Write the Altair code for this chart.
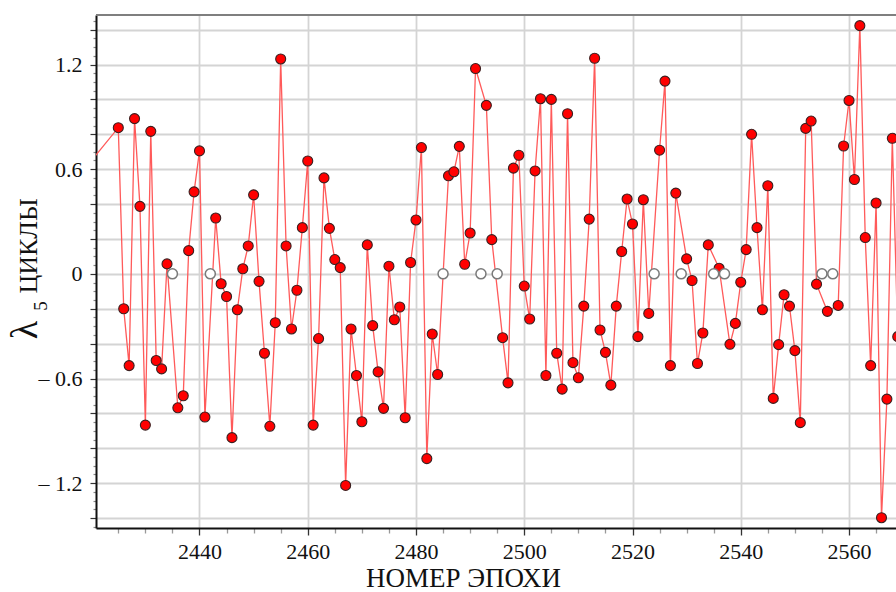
import altair as alt
import pandas as pd

# ---------------- data ----------------
epochs = [2419, 2425, 2426, 2427, 2428, 2429, 2430, 2431, 2432, 2433, 2434,
          2436, 2437, 2438, 2439, 2440, 2441, 2443, 2444, 2445, 2446, 2447,
          2448, 2449, 2450, 2451, 2452, 2453, 2454, 2455, 2456, 2457, 2458,
          2459, 2460, 2461, 2462, 2463, 2464, 2465, 2466, 2467, 2468, 2469,
          2470, 2471, 2472, 2473, 2474, 2475, 2476, 2477, 2478, 2479, 2480,
          2481, 2482, 2483, 2484, 2486, 2487, 2488, 2489, 2490, 2491, 2493,
          2494, 2496, 2497, 2498, 2499, 2500, 2501, 2502, 2503, 2504, 2505,
          2506, 2507, 2508, 2509, 2510, 2511, 2512, 2513, 2514, 2515, 2516,
          2517, 2518, 2519, 2520, 2521, 2522, 2523, 2525, 2526, 2527, 2528,
          2530, 2531, 2532, 2533, 2534, 2536, 2538, 2539, 2540, 2541, 2542,
          2543, 2544, 2545, 2546, 2547, 2548, 2549, 2550, 2551, 2552, 2553,
          2554, 2556, 2558, 2559, 2560, 2561, 2562, 2563, 2564, 2565, 2566,
          2567, 2568, 2569]
values = [0.61, 0.838, -0.20, -0.526, 0.89, 0.387, -0.867, 0.817, -0.497, -0.545, 0.057,
          -0.768, -0.699, 0.133, 0.47, 0.705, -0.821, 0.32, -0.057, -0.13, -0.939, -0.206,
          0.029, 0.16, 0.453, -0.043, -0.455, -0.874, -0.28, 1.232, 0.16, -0.316, -0.094,
          0.265, 0.647, -0.867, -0.371, 0.55, 0.261, 0.082, 0.036, -1.213, -0.316, -0.583,
          -0.848, 0.166, -0.297, -0.562, -0.771, 0.044, -0.263, -0.19, -0.825, 0.065, 0.309,
          0.724, -1.059, -0.345, -0.577, 0.562, 0.585, 0.731, 0.055, 0.234, 1.177, 0.966,
          0.196, -0.366, -0.625, 0.606, 0.68, -0.07, -0.259, 0.59, 1.004, -0.583, 1.0,
          -0.455, -0.661, 0.918, -0.509, -0.596, -0.185, 0.314, 1.236, -0.322, -0.45, -0.638,
          -0.185, 0.128, 0.429, 0.286, -0.36, 0.425, -0.227, 0.709, 1.105, -0.526, 0.463,
          0.086, -0.038, -0.514, -0.339, 0.166, 0.032, -0.404, -0.284, -0.048, 0.139, 0.8,
          0.265, -0.206, 0.505, -0.714, -0.406, -0.12, -0.185, -0.44, -0.853, 0.834, 0.876,
          -0.059, -0.215, -0.181, 0.733, 0.994, 0.541, 1.423, 0.208, -0.526, 0.406, -1.398,
          -0.718, 0.777, -0.36]
missing_epochs = [2435, 2442, 2485, 2492, 2495, 2524, 2529, 2535, 2537, 2555, 2557]
missing_values = [0, 0, 0, 0, 0, 0, 0, 0, 0, 0, 0]

x_tick_values = [2425, 2430, 2435, 2440, 2445, 2450, 2455, 2460, 2465, 2470, 2475,
                 2480, 2485, 2490, 2495, 2500, 2505, 2510, 2515, 2520, 2525, 2530,
                 2535, 2540, 2545, 2550, 2555, 2560, 2565]
y_tick_values = [round(-1.45 + 0.05 * i, 2) for i in range(59)]

obs = pd.DataFrame({"epoch": epochs, "lam": values})
miss = pd.DataFrame({"epoch": missing_epochs, "lam": missing_values})

FONT = "Liberation Serif, Times New Roman, serif"
XDOM = [2420.88, 2568.68]
YDOM = [-1.457, 1.484]
W, H = 800, 513

x_axis = alt.Axis(
    values=x_tick_values,
    title="НОМЕР ЭПОХИ",
    titleFont=FONT, titleFontSize=27, titleFontWeight="normal", titleColor="#111",
    titleX=367, titleY=58, titleBaseline="alphabetic", titleAnchor="middle", titleAlign="center",
    labelFont=FONT, labelFontSize=22, labelColor="#111",
    labelExpr="datum.value % 20 === 0 ? '' + datum.value : ''",
    labelOverlap=False, labelFlush=False, labelPadding=6,
    grid=True, gridColor="#d4d4d4", gridWidth=1.8,
    gridOpacity={"condition": {"test": "datum.value % 20 === 0", "value": 1}, "value": 0},
    ticks=True,
    tickSize={"condition": {"test": "datum.value % 20 === 0", "value": 7}, "value": 5},
    tickColor={"condition": {"test": "datum.value % 20 === 0", "value": "#333"}, "value": "#999"},
    tickWidth=1.3,
    domain=True, domainColor="#111", domainWidth=2,
)

major_y = "abs(datum.value * 5 - round(datum.value * 5)) < 0.000001"
label_y = "abs(datum.value / 0.6 - round(datum.value / 0.6)) < 0.000001"
y_axis = alt.Axis(
    values=y_tick_values,
    title=None,
    labelFont=FONT, labelFontSize=22, labelColor="#111",
    labelExpr=(f"({label_y}) ? (abs(datum.value) < 0.000001 ? '0\u00a0\u00a0' : "
               "(datum.value < 0 ? '– ' + format(-datum.value, '.1f') : format(datum.value, '.1f'))) : ''"),
    labelOverlap=False, labelFlush=False, labelPadding=8,
    grid=True, gridColor="#d4d4d4", gridWidth=1.8,
    gridOpacity={"condition": {"test": major_y, "value": 1}, "value": 0},
    ticks=True,
    tickSize={"condition": {"test": major_y, "value": 6}, "value": 3},
    tickColor={"condition": {"test": major_y, "value": "#333"}, "value": "#888"},
    tickWidth=1.2,
    domain=True, domainColor="#111", domainWidth=2,
)

xenc = alt.X("epoch:Q", scale=alt.Scale(domain=XDOM, nice=False, zero=False), axis=x_axis)
yenc = alt.Y("lam:Q", scale=alt.Scale(domain=YDOM, nice=False, zero=False), axis=y_axis)

line = alt.Chart(obs).mark_line(color="#ff5a5a", strokeWidth=1.3, clip=True).encode(x=xenc, y=yenc)
pts = alt.Chart(obs).mark_circle(
    color="#ff0000", stroke="#3a2020", strokeWidth=1.1, size=100, opacity=1, clip=True
).encode(x=xenc, y=yenc)
hollow = alt.Chart(miss).mark_circle(
    color="#ffffff", stroke="#7a7a7a", strokeWidth=1.5, size=100, opacity=1, clip=True
).encode(x=xenc, y=yenc)

top_border = alt.Chart(pd.DataFrame({"a": [0]})).mark_rule(
    color="#7f7f7f", strokeWidth=2
).encode(x=alt.value(0), x2=alt.value(W), y=alt.value(0))

lam_txt = alt.Chart(pd.DataFrame({"t": ["λ"]})).mark_text(
    angle=270, font=FONT, fontSize=38, color="#111", align="center", baseline="middle"
).encode(text="t:N", x=alt.value(-70), y=alt.value(315))
sub_txt = alt.Chart(pd.DataFrame({"t": ["5"]})).mark_text(
    angle=270, font=FONT, fontSize=19, color="#111", align="center", baseline="middle"
).encode(text="t:N", x=alt.value(-55), y=alt.value(291))
word_txt = alt.Chart(pd.DataFrame({"t": ["ЦИКЛЫ"]})).mark_text(
    angle=270, font=FONT, fontSize=26, color="#111", align="center", baseline="middle"
).encode(text="t:N", x=alt.value(-67), y=alt.value(231))

chart = alt.layer(line, pts, hollow, top_border, lam_txt, sub_txt, word_txt).properties(
    width=W, height=H,
    padding={"left": 96, "top": 15, "right": 0, "bottom": 64},
    autosize=alt.AutoSizeParams(type="none"),
    background="white",
).configure_view(stroke=None)

chart.save("out.html", embed_options={"renderer": "svg", "actions": False})
